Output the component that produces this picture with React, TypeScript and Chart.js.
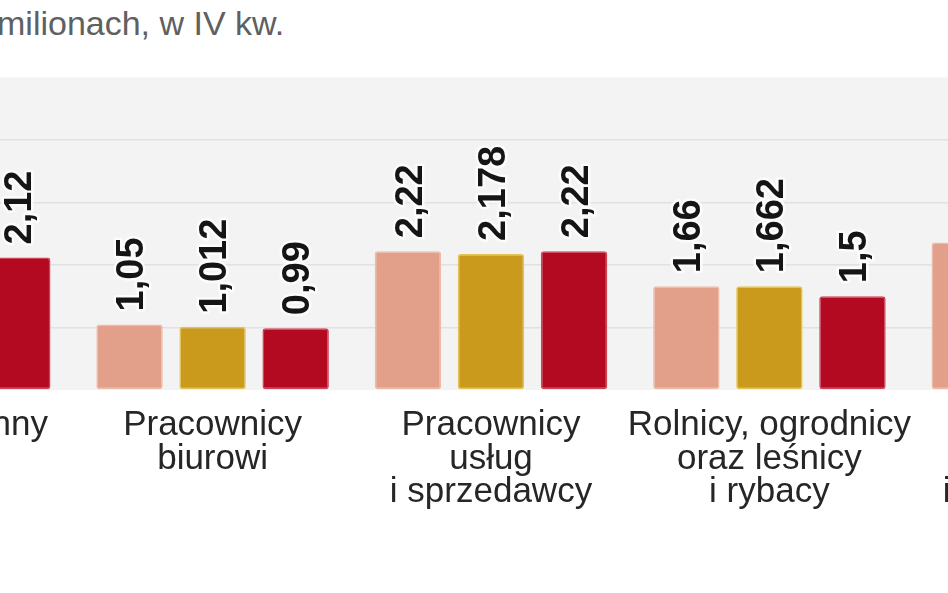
import { useEffect, useRef } from 'react';
import { Chart, registerables } from 'chart.js';

Chart.register(...registerables);

// category labels (multi-line), partial groups at both edges are cut off like in the source
const categories = [
  ['Technicy i inny', 'średni', 'personel'],
  ['Pracownicy', 'biurowi'],
  ['Pracownicy', 'usług', 'i sprzedawcy'],
  ['Rolnicy, ogrodnicy', 'oraz leśnicy', 'i rybacy'],
  ['Robotnicy', 'przemysłowi', 'i rzemieślnicy'],
];

// values in millions
const seriesA = [2.08, 1.05, 2.22, 1.66, 2.36];
const seriesB = [2.1, 1.012, 2.178, 1.662, 2.33];
const seriesC = [2.12, 0.99, 2.22, 1.5, 2.3];

const seriesNames = ['Seria 1', 'Seria 2', 'Seria 3'];
const yTicks = [0, 1, 2, 3, 4, 5];

const fmt = (v: number) => String(v).replace('.', ',');

const plotBackground = {
  id: 'plotBackground',
  beforeDraw(chart: any) {
    const { ctx, chartArea } = chart;
    ctx.save();
    ctx.fillStyle = '#f3f3f3';
    ctx.fillRect(chartArea.left, chartArea.top, chartArea.right - chartArea.left, chartArea.bottom - chartArea.top);
    ctx.restore();
  },
};

const valueLabels = {
  id: 'valueLabels',
  afterDatasetsDraw(chart: any) {
    const { ctx } = chart;
    const size = 38;
    chart.data.datasets.forEach((ds: any, i: number) => {
      const meta = chart.getDatasetMeta(i);
      meta.data.forEach((bar: any, j: number) => {
        const text = fmt(ds.data[j]);
        ctx.save();
        ctx.translate(bar.x, bar.y - 13);
        ctx.rotate(-Math.PI / 2);
        ctx.font = `bold ${size}px 'Liberation Sans', Arial, sans-serif`;
        ctx.textAlign = 'left';
        ctx.textBaseline = 'alphabetic';
        ctx.lineJoin = 'round';
        ctx.strokeStyle = 'rgba(255,255,255,0.75)';
        ctx.lineWidth = 5;
        ctx.strokeText(text, 0, size * 0.36);
        ctx.fillStyle = '#151515';
        ctx.fillText(text, 0, size * 0.36);
        ctx.restore();
      });
    });
  },
};

export default function App() {
  const canvasRef = useRef<HTMLCanvasElement | null>(null);
  const chartRef = useRef<Chart | null>(null);

  useEffect(() => {
    if (chartRef.current) chartRef.current.destroy();
    const ctx = canvasRef.current?.getContext('2d');
    if (!ctx) return;

    chartRef.current = new Chart(ctx, {
      type: 'bar',
      data: {
        labels: categories,
        datasets: [
          { label: seriesNames[0], data: seriesA, backgroundColor: '#e2a08a', borderColor: '#eebba8' },
          { label: seriesNames[1], data: seriesB, backgroundColor: '#c99a1c', borderColor: '#e2c355' },
          { label: seriesNames[2], data: seriesC, backgroundColor: '#b30a22', borderColor: '#cf4356' },
        ],
      },
      options: {
        responsive: false,
        animation: false,
        layout: { padding: { top: 77.5, left: 0, right: 0, bottom: 0 } },
        datasets: {
          bar: {
            barPercentage: 0.8,
            categoryPercentage: 0.895,
            borderWidth: 1.5,
            borderRadius: 3,
            borderSkipped: false,
          },
        },
        plugins: {
          legend: { display: false },
          title: { display: false },
          tooltip: { enabled: false },
        },
        scales: {
          x: {
            grid: { display: false, drawTicks: false },
            border: { display: false },
            ticks: {
              color: '#262626',
              padding: 19,
              maxRotation: 0,
              autoSkip: false,
              font: { family: "'Liberation Sans', Arial, sans-serif", size: 35, lineHeight: 0.95 },
            },
            afterFit: (scale: any) => {
              scale.height = 203;
            },
          },
          y: {
            display: true,
            min: yTicks[0],
            max: yTicks[yTicks.length - 1],
            afterBuildTicks: (scale: any) => {
              scale.ticks = yTicks.map((v) => ({ value: v }));
            },
            ticks: { display: false },
            border: { display: false },
            grid: {
              drawTicks: false,
              lineWidth: 1.5,
              color: (c: any) => (c.tick && (c.tick.value === 0 || c.tick.value === 5) ? 'rgba(0,0,0,0)' : '#e1e1e1'),
            },
            afterFit: (scale: any) => {
              scale.width = 0;
            },
          },
        },
      },
      plugins: [plotBackground, valueLabels],
    });

    return () => {
      if (chartRef.current) {
        chartRef.current.destroy();
        chartRef.current = null;
      }
    };
  }, []);

  return (
    <div
      style={{
        position: 'fixed',
        left: 0,
        top: 0,
        width: 948,
        height: 593,
        overflow: 'hidden',
        background: '#fff',
      }}
    >
      <div
        style={{
          position: 'absolute',
          left: -3,
          top: 6,
          fontFamily: "'Liberation Sans', Arial, sans-serif",
          fontSize: 34,
          lineHeight: '34px',
          color: '#606060',
          whiteSpace: 'nowrap',
        }}
      >
        milionach, w IV kw.
      </div>
      <div style={{ position: 'absolute', left: -205, top: 0, width: 1392, height: 593 }}>
        <canvas ref={canvasRef} width={1392} height={593} style={{ width: 1392, height: 593 }}></canvas>
      </div>
    </div>
  );
}
